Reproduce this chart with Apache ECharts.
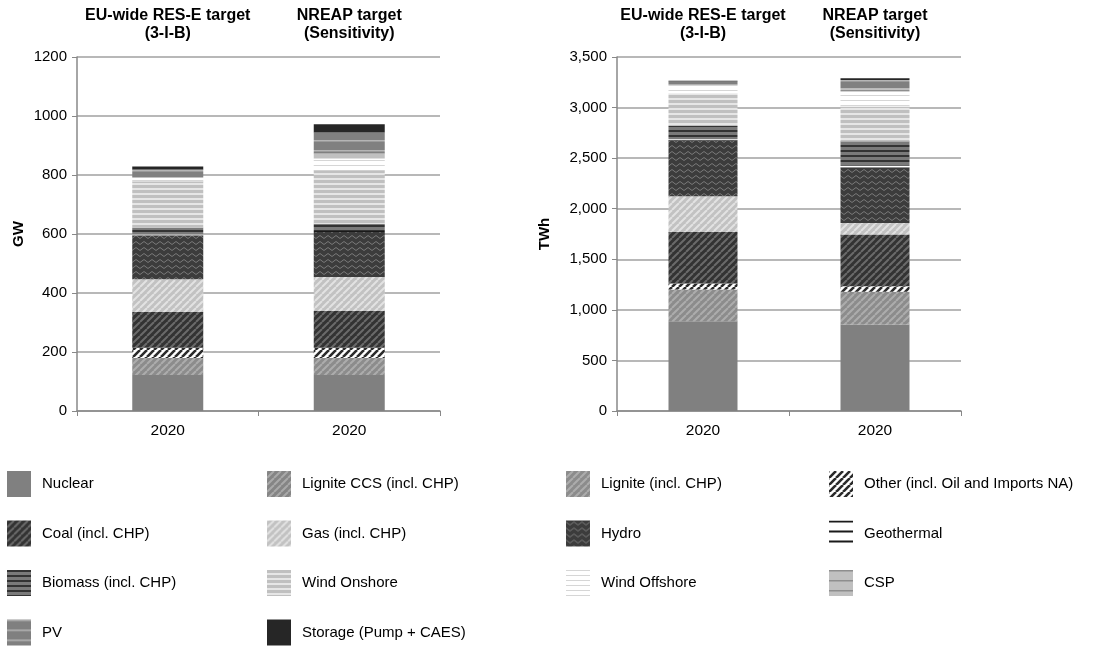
<!DOCTYPE html>
<html>
<head>
<meta charset="utf-8">
<script src="https://cdn.jsdelivr.net/npm/echarts@6/dist/echarts.min.js"></script>
<style>
html,body{margin:0;padding:0;background:#fff;}
#chart{width:1115px;height:648px;}
</style>
</head>
<body>
<div id="chart"></div>
<script>
// ---------- DATA ----------
const seriesNames = [
  'Nuclear', 'Lignite CCS (incl. CHP)', 'Lignite (incl. CHP)', 'Other (incl. Oil and Imports NA)',
  'Coal (incl. CHP)', 'Gas (incl. CHP)', 'Hydro', 'Geothermal',
  'Biomass (incl. CHP)', 'Wind Onshore', 'Wind Offshore', 'CSP',
  'PV', 'Storage (Pump + CAES)'
];
const yearLabels = ['2020', '2020'];
const scenarioLabels = ['EU-wide RES-E target\n(3-I-B)', 'NREAP target\n(Sensitivity)'];
// Capacity (GW), order as seriesNames (bottom to top)
const gwEUwide = [122, 0, 58, 34, 122, 111, 149, 2, 23, 158, 11, 3, 26, 10];
const gwNREAP  = [122, 0, 58, 34, 125, 115, 153, 3, 25, 181, 40, 17, 71, 28];
// Generation (TWh)
const twhEUwide = [888, 0, 313, 59, 510, 352, 552, 14, 131, 323, 82, 5, 28, 8];
const twhNREAP  = [855, 0, 323, 56, 510, 115, 552, 15, 238, 346, 148, 33, 82, 17];
const gwTicks = {min: 0, max: 1200, interval: 200};
const twhTicks = {min: 0, max: 3500, interval: 500};

// ---------- PATTERNS ----------
function tile(w, h, draw) {
  const c = document.createElement('canvas');
  c.width = w; c.height = h;
  draw(c.getContext('2d'), w, h);
  return {image: c, repeat: 'repeat'};
}
function solid(col) { return col; }
function diag(bg, fg, s, lw) {
  return tile(s, s, (g) => {
    g.fillStyle = bg; g.fillRect(0, 0, s, s);
    g.strokeStyle = fg; g.lineWidth = lw; g.beginPath();
    for (let k = -1; k <= 1; k++) { g.moveTo(k * s, s); g.lineTo(k * s + s, 0); }
    g.stroke();
  });
}
function hstripe(bg, fg, h, lw) {
  return tile(4, h, (g) => {
    g.fillStyle = bg; g.fillRect(0, 0, 4, h);
    g.fillStyle = fg; g.fillRect(0, 0, 4, lw);
  });
}
function zigzag(bg, fg) {
  return tile(8, 6, (g) => {
    g.fillStyle = bg; g.fillRect(0, 0, 8, 6);
    g.strokeStyle = fg; g.lineWidth = 1; g.beginPath();
    g.moveTo(0, 1.5); g.lineTo(4, 4.5); g.lineTo(8, 1.5);
    g.stroke();
  });
}
const fills = [
  solid('#808080'),                 // Nuclear
  diag('#858585', '#a9a9a9', 7, 2), // Lignite CCS
  diag('#8c8c8c', '#acacac', 7, 2), // Lignite
  diag('#ffffff', '#2a2a2a', 7, 2.6), // Other
  diag('#333333', '#6a6a6a', 7, 2), // Coal
  diag('#c2c2c2', '#e2e2e2', 7, 2), // Gas
  zigzag('#3c3c3c', '#7a7a7a'),     // Hydro
  hstripe('#ffffff', '#1a1a1a', 10, 2), // Geothermal
  hstripe('#7a7a7a', '#333333', 5, 2),  // Biomass
  hstripe('#e6e6e6', '#c0c0c0', 5, 3),  // Wind Onshore
  hstripe('#ffffff', '#d6d6d6', 5, 1),  // Wind Offshore
  hstripe('#c0c0c0', '#8e8e8e', 10, 1.5), // CSP
  hstripe('#808080', '#b5b5b5', 10, 1.5), // PV
  solid('#262626')                  // Storage
];

// ---------- OPTION ----------
const FONT = 'Liberation Sans, Arial, sans-serif';
function makeSeries(gridIdx, dataA, dataB) {
  return seriesNames.map((name, i) => ({
    name: name,
    type: 'bar',
    stack: 'total' + gridIdx,
    xAxisIndex: gridIdx * 2,
    yAxisIndex: gridIdx,
    barWidth: gridIdx === 0 ? 71 : 69,
    itemStyle: {color: fills[i]},
    emphasis: {disabled: true},
    data: [dataA[i], dataB[i]]
  }));
}
function bottomAxis(gi) {
  return {
    type: 'category', gridIndex: gi, data: yearLabels, position: 'bottom',
    axisLine: {lineStyle: {color: '#888', width: 1.5}},
    axisTick: {show: true, length: 5, lineStyle: {color: '#888'}},
    axisLabel: {color: '#000', fontSize: 15.5, fontFamily: FONT, margin: 12, interval: 0}
  };
}
function topAxis(gi) {
  return {
    type: 'category', gridIndex: gi, data: scenarioLabels, position: 'top',
    axisLine: {show: false}, axisTick: {show: false},
    axisLabel: {color: '#000', fontSize: 16, fontWeight: 'bold', fontFamily: FONT,
                margin: 14, lineHeight: 18, interval: 0, hideOverlap: false}
  };
}
function valAxis(gi, t, name, gap, fmt) {
  return {
    type: 'value', gridIndex: gi, min: t.min, max: t.max, interval: t.interval,
    name: name, nameLocation: 'middle', nameGap: gap,
    nameTextStyle: {color: '#000', fontSize: 15, fontWeight: 'bold', fontFamily: FONT},
    axisLine: {show: true, lineStyle: {color: '#888', width: 1.5}},
    axisTick: {show: true, length: 5, lineStyle: {color: '#888'}},
    axisLabel: {color: '#000', fontSize: 15, fontFamily: FONT, margin: 10, formatter: fmt},
    splitLine: {show: true, lineStyle: {color: '#a0a0a0', width: 1.5}}
  };
}
function legendCol(left, idxs) {
  return {
    orient: 'vertical', left: left, top: 471, height: 200, padding: 0,
    itemWidth: 24, itemHeight: 26, itemGap: 23.5, icon: 'rect',
    selectedMode: false,
    textStyle: {color: '#000', fontSize: 15, fontFamily: FONT, padding: [0, 0, 0, 6]},
    data: idxs.map(i => seriesNames[i])
  };
}
const option = {
  animation: false,
  backgroundColor: '#fff',
  grid: [
    {left: 77, right: 1115 - 440, top: 57, bottom: 648 - 411},
    {left: 617, right: 1115 - 961, top: 57, bottom: 648 - 411}
  ],
  xAxis: [bottomAxis(0), topAxis(0), bottomAxis(1), topAxis(1)],
  yAxis: [
    valAxis(0, gwTicks, 'GW', 51, v => String(v)),
    valAxis(1, twhTicks, 'TWh', 65, v => v.toLocaleString('en-US'))
  ],
  legend: [
    legendCol(7, [0, 4, 8, 12]),
    legendCol(267, [1, 5, 9, 13]),
    legendCol(566, [2, 6, 10]),
    legendCol(829, [3, 7, 11])
  ],
  series: makeSeries(0, gwEUwide, gwNREAP).concat(makeSeries(1, twhEUwide, twhNREAP))
};
const chart = echarts.init(document.getElementById('chart'), null, {renderer: 'canvas'});
chart.setOption(option);
</script>
</body>
</html>
